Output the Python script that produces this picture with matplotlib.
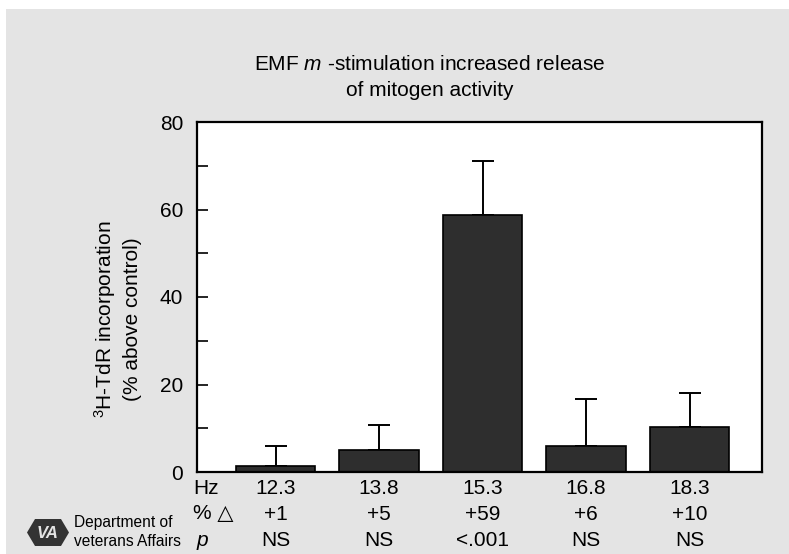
import numpy as np
import matplotlib
matplotlib.use("Agg")
import matplotlib.pyplot as plt
from matplotlib.patches import Rectangle, Polygon
import matplotlib.transforms as mtransforms

plt.rcParams['font.family'] = ['Liberation Sans', 'DejaVu Sans']
plt.rcParams['mathtext.fontset'] = 'custom'
plt.rcParams['mathtext.rm'] = 'Liberation Sans'
plt.rcParams['mathtext.it'] = 'Liberation Sans:italic'

# data
hz_labels = ["12.3", "13.8", "15.3", "16.8", "18.3"]
pct_labels = ["+1", "+5", "+59", "+6", "+10"]
p_labels = ["NS", "NS", "<.001", "NS", "NS"]
values = [1.3, 5.0, 58.8, 6.0, 10.3]
err_top = [5.9, 10.7, 71.0, 16.8, 18.0]

errors = [t - v for t, v in zip(err_top, values)]
x = np.arange(len(values))

bg = "#e4e4e4"
fs = 15
fig = plt.figure(figsize=(7.89, 5.54), dpi=100, facecolor="white")
fig.patches.append(Rectangle((6 / 789, 0), 1, 1 - 9 / 554, transform=fig.transFigure,
                             facecolor=bg, edgecolor="none", zorder=-10))

ax = fig.add_axes([197 / 789, 82 / 554, 565 / 789, 350 / 554])
ax.bar(x, values, width=0.77, color="#2e2e2e", edgecolor="black", linewidth=1.2, zorder=2)
ax.errorbar(x, values, yerr=[np.zeros(len(values)), errors], fmt="none",
            ecolor="black", elinewidth=1.4, capsize=8, capthick=1.4, zorder=1)

ax.set_xlim(-0.76, 4.70)
ax.set_ylim(0, 80)
ax.set_yticks([0, 20, 40, 60, 80])
ax.set_yticks([10, 30, 50, 70], minor=True)
ax.tick_params(axis="y", which="both", direction="in", length=8, width=1.2,
               labelsize=fs, pad=10)
ax.set_xticks([])
for s in ax.spines.values():
    s.set_linewidth(1.6)

# title
fig.text(430 / 789, 1 - 64 / 554, "EMF $m$ -stimulation increased release",
         ha="center", va="center", fontsize=fs)
fig.text(430 / 789, 1 - 90 / 554, "of mitogen activity",
         ha="center", va="center", fontsize=fs)

# y label
fig.text(105 / 789, 1 - 319 / 554, "$^{3}$H-TdR incorporation", rotation=90,
         ha="center", va="center", fontsize=fs)
fig.text(132 / 789, 1 - 319 / 554, "(% above control)", rotation=90,
         ha="center", va="center", fontsize=fs)

# table under the bars
trans = mtransforms.blended_transform_factory(ax.transData, fig.transFigure)
rows = [(1 - 488 / 554, hz_labels), (1 - 514 / 554, pct_labels), (1 - 540 / 554, p_labels)]
for ypos, labels in rows:
    for xi, lab in zip(x, labels):
        ax.text(xi, ypos, lab, transform=trans, ha="center", va="center", fontsize=fs)

fig.text(193 / 789, 1 - 488 / 554, "Hz", ha="left", va="center", fontsize=fs)
fig.text(193 / 789, 1 - 514 / 554, "% \u25b3", ha="left", va="center", fontsize=fs)
fig.text(197 / 789, 1 - 541 / 554, "p", ha="left", va="center", fontsize=fs, style="italic")

# VA logo
fig.text(74 / 789, 1 - 522 / 554, "Department of", ha="left", va="center", fontsize=11.2)
fig.text(74 / 789, 1 - 542 / 554, "veterans Affairs", ha="left", va="center", fontsize=11.2)
lax = fig.add_axes([27 / 789, 1 - 546 / 554, 42 / 789, 27 / 554])
lax.set_xlim(0, 42)
lax.set_ylim(0, 27)
lax.axis("off")
lax.add_patch(Polygon([[0, 13.5], [8, 27], [34, 27], [42, 13.5], [34, 0], [8, 0]],
                      closed=True, facecolor="#333333", edgecolor="none"))
lax.text(21, 13, "VA", ha="center", va="center", fontsize=12, fontweight="bold",
         style="italic", color="#e4e4e4")

fig.savefig("out.png", dpi=100, facecolor=fig.get_facecolor())
